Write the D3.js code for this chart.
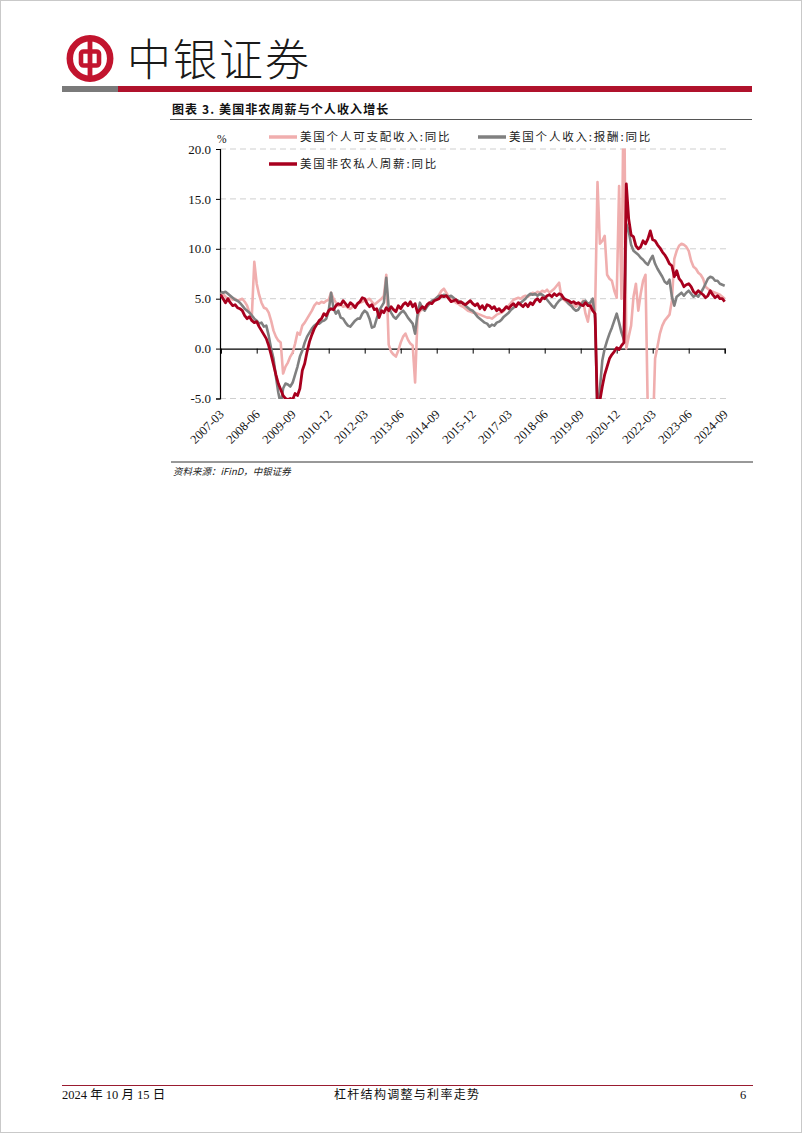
<!DOCTYPE html>
<html><head><meta charset="utf-8">
<script src="https://cdn.jsdelivr.net/npm/d3@7/dist/d3.min.js"></script>
<style>
html,body{margin:0;padding:0;background:#fff;}
svg{display:block;}
</style></head><body>
<svg id="page" width="802" height="1133"></svg>
<script>
// ---------- data ----------
const startMonth = "2007-03";
const endMonth = "2024-09";
const xTickLabels = ["2007-03","2008-06","2009-09","2010-12","2012-03","2013-06","2014-09","2015-12","2017-03","2018-06","2019-09","2020-12","2022-03","2023-06","2024-09"];
const yTicks = [-5, 0, 5, 10, 15, 20];
const seriesNames = ["美国个人可支配收入:同比", "美国个人收入:报酬:同比", "美国非农私人周薪:同比"];

// 美国个人可支配收入:同比 (monthly, 2007-03 .. 2024-09)
const disposableIncome = [
  5.6, 5.5, 5.2, 5.0, 5.1, 4.9, 5.0, 4.8, 4.9, 5.0,
  4.7, 4.3, 3.6, 3.4, 8.7, 6.5, 5.4, 4.6, 4.1, 4.0, 3.6, 2.8,
  1.8, 1.2, 0.8, 0.6, -2.5, -1.8, -1.4, -0.8, -0.4, 0.5, 1.6, 1.4,
  2.3, 2.6, 3.0, 3.4, 3.8, 4.3, 4.6, 4.5, 4.7, 4.6, 4.8, 4.9,
  5.6, 5.0, 4.6, 4.3, 4.4, 4.2, 4.3, 4.1, 4.0, 4.2, 4.3, 4.5,
  4.6, 4.7, 4.8, 4.9, 5.0, 4.7, 4.4, 4.6, 4.8, 5.0, 5.3, 7.4,
  0.4, -0.3, -0.6, -0.8, -0.2, 0.6, 1.2, 1.5, 0.9, 0.5, 0.3, -3.4,
  3.1, 3.8, 3.9, 4.0, 4.3, 4.5, 4.7, 4.9, 5.1, 5.4, 5.8, 6.0,
  5.6, 5.2, 5.0, 4.8, 4.6, 4.5, 4.3, 4.2, 4.0, 3.8, 3.7, 3.6,
  3.6, 3.5, 3.4, 3.3, 3.2, 3.1, 3.1, 3.0, 3.2, 3.4, 3.5, 3.6,
  3.8, 4.1, 4.3, 4.6, 4.9, 5.0, 5.1, 5.0, 5.2, 5.3, 5.2, 5.4,
  5.6, 5.5, 5.7, 5.6, 5.8, 5.7, 5.9, 5.6, 5.8, 6.0, 6.3, 6.6,
  5.1, 4.9, 4.7, 4.5, 4.3, 4.4, 4.2, 4.4, 4.5, 4.8, 3.5, 2.7,
  4.3, 4.5, 3.8, 16.7, 10.5, 10.8, 11.3, 7.4, 7.0, 6.8, 5.8, 5.1,
  16.3, 5.0, 29.0, 0.0, 1.2, 2.3, 5.2, 6.5, 3.8, 5.5, 6.8, 7.4,
  -7.0, -6.0, -9.0, -1.0, 0.2, 1.5, 2.3, 2.8, 3.1, 3.4, 4.8, 9.0,
  9.8, 10.3, 10.5, 10.4, 10.2, 9.8, 8.8, 8.2, 8.0, 7.6, 7.4, 7.0,
  6.2, 6.0, 5.8, 5.7, 5.6, 5.5, 5.4, 5.2, 5.0
];

// 美国个人收入:报酬:同比
const compensation = [
  5.7, 5.6, 5.7, 5.5, 5.3, 5.1, 4.9, 4.8, 4.6, 4.3,
  4.0, 3.8, 3.6, 3.3, 3.0, 2.8, 2.5, 2.6, 2.2, 2.3, 1.3, 0.0,
  -1.0, -2.8, -4.4, -5.6, -4.0, -3.5, -3.6, -3.8, -3.4, -2.6, -1.8, -0.8,
  -0.2, 0.6, 1.2, 1.6, 2.0, 2.3, 2.5, 2.5, 2.7, 2.8, 3.0, 3.8,
  5.6, 4.0, 3.5, 3.8, 3.1, 3.0, 2.6, 2.3, 2.2, 2.5, 2.8, 3.0,
  3.0, 3.5, 3.8, 3.6, 3.0, 2.1, 2.2, 3.0, 3.8, 4.2, 4.6, 7.1,
  4.1, 3.6, 3.2, 3.0, 3.3, 3.6, 3.8, 3.5, 3.1, 2.8, 2.5, 1.5,
  3.4, 4.6, 4.1, 3.8, 4.2, 4.5, 4.8, 4.9, 5.1, 5.3, 5.2, 5.4,
  5.3, 5.2, 5.3, 5.1, 4.9, 4.8, 4.6, 4.6, 4.3, 4.1, 3.9, 3.8,
  3.5, 3.2, 3.0, 2.8, 2.6, 2.5, 2.2, 2.4, 2.3, 2.6, 2.7, 2.9,
  3.2, 3.4, 3.6, 3.9, 4.1, 4.3, 4.5, 4.6, 4.8, 5.0, 5.3, 5.5,
  5.4, 5.5, 5.3, 5.5, 5.4, 5.2, 4.9, 4.6, 4.3, 4.1, 4.5, 4.8,
  5.0, 5.1, 4.8, 4.5, 4.3, 4.0, 3.8, 3.9, 4.3, 4.7, 4.8, 4.5,
  4.6, 5.0, 3.0, -7.0, -4.0, -1.2, 0.0, 0.8, 1.5, 2.1, 2.8, 3.5,
  2.6, 1.6, 0.9, 12.5, 11.8, 10.4, 9.8, 9.6, 9.4, 9.1, 8.9, 8.6,
  8.4, 8.9, 9.3, 8.5, 8.0, 7.6, 7.2, 6.7, 6.5, 6.9, 5.2, 4.3,
  5.2, 5.4, 5.6, 5.3, 5.6, 5.8, 5.5, 5.2, 5.4, 5.2, 5.6, 6.0,
  6.5, 7.0, 7.2, 7.1, 6.8, 6.8, 6.5, 6.4, 6.3
];

// 美国非农私人周薪:同比
const weeklyEarnings = [
  5.4, 5.0, 4.6, 5.0, 4.6, 4.3, 4.4, 4.1, 4.0, 3.8,
  3.3, 3.0, 3.2, 2.8, 2.6, 2.7, 2.2, 1.8, 1.4, 1.0, 0.3, -0.6,
  -1.6, -2.6, -3.5, -4.1, -4.7, -5.0, -5.1, -5.0, -5.1, -4.5, -4.7, -4.0,
  -2.2, -1.5, -0.3, 0.7, 1.4, 2.0, 2.4, 2.8, 3.0, 3.5, 3.3, 3.8,
  4.0, 3.9, 4.3, 4.5, 4.4, 4.8, 4.5, 4.2, 4.6, 4.4, 4.1, 4.5,
  4.7, 5.1, 5.0, 4.5, 4.2, 4.4, 3.9, 4.0, 3.1, 3.8, 3.6, 4.1,
  3.8, 4.2, 3.9, 3.7, 4.3, 4.0, 4.4, 4.6, 4.3, 4.7, 4.2, 4.5,
  3.6, 3.9, 4.2, 4.0, 4.4, 4.6, 4.5, 4.8, 4.9, 5.0, 5.3, 5.2,
  5.3, 5.0, 4.7, 4.8, 4.9, 4.6, 4.7, 4.5, 4.4, 4.6, 4.8, 4.5,
  4.3, 4.5, 4.0, 4.3, 3.9, 4.4, 4.3, 4.0, 4.2, 3.8, 4.0, 3.7,
  3.9, 4.2, 4.0, 4.3, 4.5, 4.2, 4.6, 4.4, 4.2, 4.5, 4.2, 4.6,
  4.4, 4.8, 5.0, 4.7, 5.1, 5.0, 5.3, 5.4, 5.2, 5.5, 5.3, 5.5,
  5.4, 5.0, 4.9, 4.8, 4.6, 4.7, 4.5, 4.6, 4.4, 4.3, 4.6, 4.3,
  4.3, 3.8, 3.5, -6.5, -5.2, -3.8, -2.6, -1.8, -1.0, -0.6, -0.3, 0.1,
  -0.1, 0.3, 0.6, 16.5, 13.0, 11.4, 11.2, 10.3, 10.0, 10.2, 10.8, 10.5,
  11.0, 11.8, 10.9, 10.8, 10.4, 10.1, 9.7, 9.4, 9.0, 8.5, 8.3, 7.2,
  7.8, 7.0, 6.7, 6.2, 6.4, 6.5, 6.2, 5.7, 5.5, 5.8, 5.6, 5.4,
  5.1, 5.3, 5.8, 5.4, 5.1, 5.3, 5.0, 5.0, 4.7
];

const seriesColors = ["#f0aeae", "#808080", "#a8001e"];

// ---------- drawing ----------
const svg = d3.select("#page");
const serif = "'Liberation Serif','Times New Roman','Noto Sans CJK SC',serif";
const cjk = "'Noto Sans CJK SC','Liberation Serif',sans-serif";

// page frame
svg.append("rect").attr("x",0.5).attr("y",0.5).attr("width",801).attr("height",1132)
  .attr("fill","none").attr("stroke","#c9c9c9");

// header logo
const logo = svg.append("g");
logo.append("circle").attr("cx",90).attr("cy",58.5).attr("r",20.2)
  .attr("fill","none").attr("stroke","#c2142e").attr("stroke-width",6.5);
logo.append("rect").attr("x",81).attr("y",51.5).attr("width",18).attr("height",14).attr("rx",2.5)
  .attr("fill","none").attr("stroke","#c2142e").attr("stroke-width",4.6);
logo.append("rect").attr("x",87.6).attr("y",37).attr("width",4.8).attr("height",43).attr("fill","#c2142e");
svg.append("text").attr("x",127).attr("y",76).attr("font-family",cjk).attr("font-size",44)
  .attr("font-weight",300).attr("fill","#1a1a1a").attr("letter-spacing",2).text("中银证券");
svg.append("rect").attr("x",62).attr("y",86).attr("width",56).attr("height",6).attr("fill","#7a7a7a");
svg.append("rect").attr("x",118).attr("y",86).attr("width",634).attr("height",6).attr("fill","#b0122c");

// title
svg.append("text").attr("x",172).attr("y",114).attr("font-family",cjk).attr("font-size",12)
  .attr("font-weight","bold").attr("letter-spacing",1.1).attr("fill","#111").text("图表 3. 美国非农周薪与个人收入增长");
svg.append("line").attr("x1",170).attr("x2",752).attr("y1",119.5).attr("y2",119.5)
  .attr("stroke","#555").attr("stroke-width",1);

// scales
const parseM = d3.timeParse("%Y-%m");
const fmtM = d3.timeFormat("%Y-%m");
const months = d3.timeMonth.range(parseM(startMonth), d3.timeMonth.offset(parseM(endMonth),1)).map(fmtM);
const x = d3.scalePoint().domain(months).range([220.7, 724.7]);
const y = d3.scaleLinear().domain([-5, 20]).range([398.5, 149]);

// gridlines
svg.append("g").selectAll("line").data(yTicks.filter(d => d !== 0)).join("line")
  .attr("x1",220).attr("x2",726).attr("y1",d=>y(d)).attr("y2",d=>y(d))
  .attr("stroke","#cfcfcf").attr("stroke-width",1).attr("stroke-dasharray","6,4");

// y axis
const yAxis = svg.append("g").attr("transform","translate(220,0)")
  .call(d3.axisLeft(y).tickValues(yTicks).tickFormat(d=>d.toFixed(1)).tickSize(4).tickPadding(5));
yAxis.select(".domain").attr("stroke","#000").attr("stroke-width",1.2);
yAxis.selectAll(".tick line").attr("stroke","#000");
yAxis.selectAll("text").attr("font-family",serif).attr("font-size",13).attr("fill","#111");
svg.append("text").attr("x",217).attr("y",143).attr("font-family",serif).attr("font-size",11.5)
  .attr("fill","#111").text("%");

// zero axis
const xAxis = svg.append("g").attr("transform",`translate(0,${y(0)})`)
  .call(d3.axisBottom(x).tickValues(xTickLabels).tickSize(5).tickFormat(""));
xAxis.select(".domain").attr("stroke","#000").attr("stroke-width",1.2);
xAxis.selectAll(".tick line").attr("stroke","#000");

// x labels at bottom
svg.append("g").selectAll("text").data(xTickLabels).join("text")
  .attr("transform",d=>`translate(${x(d)+4},415) rotate(-45)`)
  .attr("text-anchor","end").attr("font-family",serif).attr("font-size",12.5).attr("fill","#111")
  .text(d=>d);

// lines
svg.append("clipPath").attr("id","plotClip").append("rect")
  .attr("x",220).attr("y",y(20)-0.5).attr("width",510).attr("height",y(-5)-y(20)+1);
const series = [disposableIncome, compensation, weeklyEarnings];
const line = d3.line().x((d,i)=>x(months[i])).y(d=>y(d));
const plot = svg.append("g").attr("clip-path","url(#plotClip)");
series.forEach((vals,k)=>{
  plot.append("path").datum(vals).attr("d",line).attr("fill","none")
    .attr("stroke",seriesColors[k]).attr("stroke-width",k===2?2.8:2.6)
    .attr("stroke-linejoin","round");
});

// legend
const legendPos = [[269,137],[478,137],[269,164]];
seriesNames.forEach((name,k)=>{
  const [lx,ly] = legendPos[k];
  svg.append("line").attr("x1",lx).attr("x2",lx+28).attr("y1",ly).attr("y2",ly)
    .attr("stroke",seriesColors[k]).attr("stroke-width",3.5);
  svg.append("text").attr("x",lx+31).attr("y",ly+4).attr("font-family",cjk).attr("font-size",11.5)
    .attr("letter-spacing",1.8).attr("fill","#222").text(name);
});

// source
svg.append("line").attr("x1",171).attr("x2",753).attr("y1",462).attr("y2",462)
  .attr("stroke","#333").attr("stroke-width",1);
svg.append("text").attr("x",173).attr("y",475).attr("font-family",cjk).attr("font-size",9.5)
  .attr("font-style","italic").attr("fill","#222").text("资料来源：iFinD，中银证券");

// footer
svg.append("line").attr("x1",62).attr("x2",753).attr("y1",1085.5).attr("y2",1085.5)
  .attr("stroke","#9a1b30").attr("stroke-width",1);
svg.append("text").attr("x",62).attr("y",1099).attr("font-family",serif).attr("font-size",12.5)
  .attr("fill","#111").text("2024 年 10 月 15 日");
svg.append("text").attr("x",334).attr("y",1099).attr("font-family",cjk).attr("font-size",12)
  .attr("letter-spacing",1.3).attr("fill","#111").text("杠杆结构调整与利率走势");
svg.append("text").attr("x",740).attr("y",1099).attr("font-family",serif).attr("font-size",12.5)
  .attr("fill","#111").text("6");
</script>
</body></html>
